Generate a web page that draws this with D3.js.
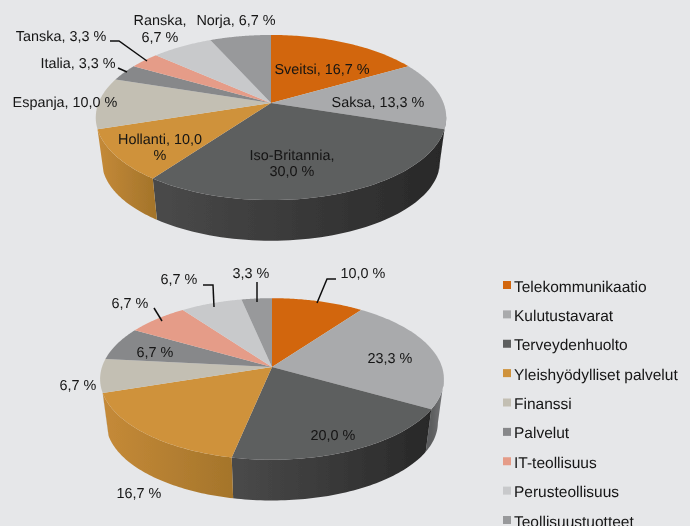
<!DOCTYPE html>
<html lang="fi">
<head>
<meta charset="utf-8">
<title>Maat ja toimialat</title>
<script src="https://d3js.org/d3.v7.min.js"></script>
<style>
  html, body { margin: 0; padding: 0; background: #e6e7e9; overflow: hidden; }
  text { font-family: "Liberation Sans", Arial, sans-serif; font-size: 14.4px; fill: #141414; text-rendering: geometricPrecision; }
  .legend text { font-size: 15.5px; }
</style>
</head>
<body>
<script>
// values
const countries = ["Sveitsi", "Saksa", "Iso-Britannia", "Hollanti", "Espanja", "Italia", "Tanska", "Ranska", "Norja"];
const countryValues = [16.7, 13.3, 30.0, 10.0, 10.0, 3.3, 3.3, 6.7, 6.7];
const sectors = ["Telekommunikaatio", "Kulutustavarat", "Terveydenhuolto", "Yleishyödylliset palvelut", "Finanssi", "Palvelut", "IT-teollisuus", "Perusteollisuus", "Teollisuustuotteet"];
const sectorValues = [10.0, 23.3, 20.0, 16.7, 6.7, 6.7, 6.7, 6.7, 3.3];

const colors = ["#d2660a", "#a9aaac", "#5d5e5e", "#cf923b", "#c3bfb3", "#87888a", "#e59c88", "#c8c9cb", "#98999b"];
// wall shading, left edge then right edge of each slice
const wallColors = [
  ["#a85208", "#8a4306"], ["#5c5d5e", "#77787a"], ["#4a4a4a", "#282828"],
  ["#c58a38", "#a5752b"], ["#9c998f", "#9c998f"], ["#6c6d6e", "#6c6d6e"],
  ["#b87d6d", "#b87d6d"], ["#a0a1a2", "#a0a1a2"], ["#7a7a7c", "#7a7a7c"]
];

const width = 690, height = 526;

const svg = d3.select("body").append("svg")
  .attr("width", width)
  .attr("height", height)
  .style("display", "block");

const defs = svg.append("defs");
// the reference is a slightly soft raster
defs.append("filter").attr("id", "soft")
  .append("feGaussianBlur").attr("stdDeviation", 0.35);
const root = svg.append("g").attr("filter", "url(#soft)");

const pie = d3.pie().sort(null).value(d => d);
const line = d3.line();

function fmt(v) {
  return v.toFixed(1).replace(".", ",") + " %";
}

// draws one tilted pie. the top face is a circle under a perspective transform,
// so the apex is not in the middle of the ellipse
function drawPie(id, values, o) {
  const g = root.append("g");
  const top = a => {
    const u = Math.sin(a), v = -Math.cos(a), w = 1 - o.k * v;
    return [o.cx + o.a * u / w, o.cy + o.b * v / w];
  };
  const bottom = a => {
    const p = top(a);
    return [o.cx + (p[0] - o.cx) * o.shrink, o.cy + o.drop + (p[1] - o.cy) * o.shrink];
  };
  const arcs = pie(values);
  const angles = s => d3.range(0, 61).map(i => s.startAngle + (s.endAngle - s.startAngle) * i / 60);
  // only the front of the drum shows a wall
  const inFront = a => -Math.cos(a) >= (Math.sin(a) > 0 ? 0.15 : 0.3);

  arcs.forEach((s, i) => {
    const grad = defs.append("linearGradient")
      .attr("id", id + "-wall-" + i)
      .attr("gradientUnits", "userSpaceOnUse");
    const xs = angles(s).filter(inFront).map(a => top(a)[0]);
    grad.attr("x1", d3.min(xs)).attr("x2", d3.max(xs)).attr("y1", 0).attr("y2", 0);
    grad.append("stop").attr("offset", 0).attr("stop-color", wallColors[i][0]);
    grad.append("stop").attr("offset", 1).attr("stop-color", wallColors[i][1]);
  });

  g.selectAll("path.wall")
    .data(arcs)
    .join("path")
    .attr("class", "wall")
    .attr("fill", (d, i) => "url(#" + id + "-wall-" + i + ")")
    .attr("d", d => {
      const as = angles(d).filter(inFront);
      if (as.length < 2) return null;
      return line(as.map(top).concat(as.slice().reverse().map(bottom))) + "Z";
    });

  g.selectAll("path.face")
    .data(arcs)
    .join("path")
    .attr("class", "face")
    .attr("fill", (d, i) => colors[i])
    .attr("d", d => line([[o.cx, o.cy]].concat(angles(d).map(top))) + "Z");
}

drawPie("a", countryValues, { cx: 271, cy: 103, a: 172.5, b: 80, k: 0.176, drop: 44, shrink: 0.965 });
drawPie("b", sectorValues, { cx: 272, cy: 367, a: 170, b: 79, k: 0.148, drop: 44, shrink: 0.965 });

// leader lines
const leaders = [
  [[110, 41], [119, 41], [147, 61]],
  [[118, 68], [127, 72]],
  [[336, 279], [327, 279], [317, 303]],
  [[257, 282], [257, 302]],
  [[203, 285], [213, 285], [214, 307]],
  [[154, 308], [162, 321]]
];
root.selectAll("path.leader")
  .data(leaders)
  .join("path")
  .attr("class", "leader")
  .attr("fill", "none")
  .attr("stroke", "#111")
  .attr("stroke-width", 1.5)
  .attr("d", d => line(d));

function label(x, y, str) {
  root.append("text").attr("x", x).attr("y", y).attr("text-anchor", "middle").text(str);
}
const cl = i => countries[i] + ", " + fmt(countryValues[i]);
label(322, 74, cl(0));
label(378, 107, cl(1));
label(292, 160, countries[2] + ",");
label(292, 176, fmt(countryValues[2]));
label(160, 144, "Hollanti, 10,0");
label(160, 160, "%");
label(65, 107, cl(4));
label(78, 68, cl(5));
label(61, 41, cl(6));
label(160, 25, countries[7] + ",");
label(160, 42, fmt(countryValues[7]));
label(236, 25, cl(8));

label(363, 278, fmt(sectorValues[0]));
label(390, 363, fmt(sectorValues[1]));
label(333, 440, fmt(sectorValues[2]));
label(139, 498, fmt(sectorValues[3]));
label(78, 390, fmt(sectorValues[4]));
label(155, 357, fmt(sectorValues[5]));
label(130, 308, fmt(sectorValues[6]));
label(179, 284, fmt(sectorValues[7]));
label(251, 278, fmt(sectorValues[8]));

// legend
const legendY = d3.scaleLinear().domain([0, 8]).range([285, 520]);
const legend = root.selectAll("g.legend")
  .data(sectors)
  .join("g")
  .attr("class", "legend")
  .attr("transform", (d, i) => "translate(503," + legendY(i) + ")");
legend.append("rect")
  .attr("x", 0).attr("y", -4)
  .attr("width", 8).attr("height", 8)
  .attr("fill", (d, i) => colors[i]);
legend.append("text")
  .attr("x", 11).attr("y", 6.5)
  .text(d => d);
</script>
</body>
</html>
